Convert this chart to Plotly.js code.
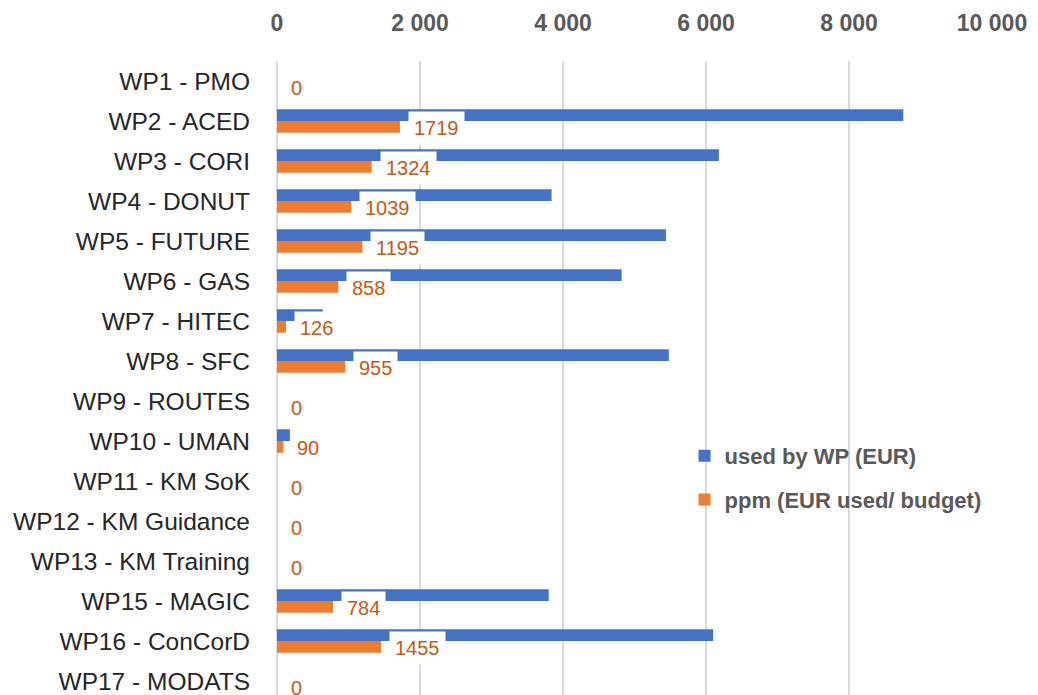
<!DOCTYPE html>
<html>
<head>
<meta charset="utf-8">
<script src="https://cdn.plot.ly/plotly-3.0.1.min.js"></script>
<style>html,body{margin:0;padding:0;background:#fff;}#chart{width:1038px;height:695px;}</style>
</head>
<body>
<div id="chart"></div>
<script>
const categories = ["WP1 - PMO","WP2 - ACED","WP3 - CORI","WP4 - DONUT","WP5 - FUTURE","WP6 - GAS","WP7 - HITEC","WP8 - SFC","WP9 - ROUTES","WP10 - UMAN","WP11 - KM SoK","WP12 - KM Guidance","WP13 - KM Training","WP15 - MAGIC","WP16 - ConCorD","WP17 - MODATS"];
const usedByWP = [0, 8760, 6180, 3840, 5440, 4820, 640, 5480, 0, 180, 0, 0, 0, 3800, 6100, 0];
const ppm = [0, 1719, 1324, 1039, 1195, 858, 126, 955, 0, 90, 0, 0, 0, 784, 1455, 0];
const xTicks = [0, 2000, 4000, 6000, 8000, 10000];
const xTickLabels = ["0", "2 000", "4 000", "6 000", "8 000", "10 000"];

const font = "Liberation Sans, Arial, sans-serif";

const traces = [
  {type:"bar", orientation:"h", name:"used by WP (EUR)", y:categories, x:usedByWP,
   marker:{color:"#4472C4"}, legendgroup:"a", hoverinfo:"x+y"},
  {type:"bar", orientation:"h", name:"ppm (EUR used/ budget)", y:categories, x:ppm,
   marker:{color:"#ED7D31"}, legendgroup:"b", hoverinfo:"x+y"}
];

const annotations = categories.map((c, i) => ({
  x: ppm[i], y: c, xref:"x", yref:"y", text: String(ppm[i]),
  showarrow:false, xanchor:"left", yanchor:"middle", xshift:8, yshift:-7,
  bgcolor:"#ffffff", borderpad:5, height:22, valign:"bottom",
  font:{family:font, size:20, color:"#C55A11"}
}));

const layout = {
  width:1038, height:695,
  margin:{l:277, r:46, t:61, b:0},
  paper_bgcolor:"#ffffff", plot_bgcolor:"#ffffff",
  barmode:"group", bargap:0.415, bargroupgap:0,
  showlegend:true,
  legend:{x:0.57, y:0.41, xanchor:"left", yanchor:"top", bgcolor:"rgba(255,255,255,0)",
    traceorder:"grouped", tracegroupgap:12,
    font:{family:font, size:22, color:"#595959", weight:"bold"}},
  xaxis:{side:"top", range:[0,10000], tickvals:xTicks, ticktext:xTickLabels,
    showgrid:true, gridcolor:"#D9D9D9", gridwidth:2,
    zeroline:true, zerolinecolor:"#D9D9D9", zerolinewidth:2,
    showline:false, ticks:"", ticklabelstandoff:24,
    tickfont:{family:font, size:23, color:"#595959", weight:"bold"}},
  yaxis:{type:"category", range:[15.35,-0.5], showgrid:false, zeroline:false, showline:false,
    ticks:"", ticklabelstandoff:26,
    tickfont:{family:font, size:24.5, color:"#262626"}},
  annotations: annotations
};

Plotly.newPlot("chart", traces, layout, {displayModeBar:false, staticPlot:true});
</script>
</body>
</html>
